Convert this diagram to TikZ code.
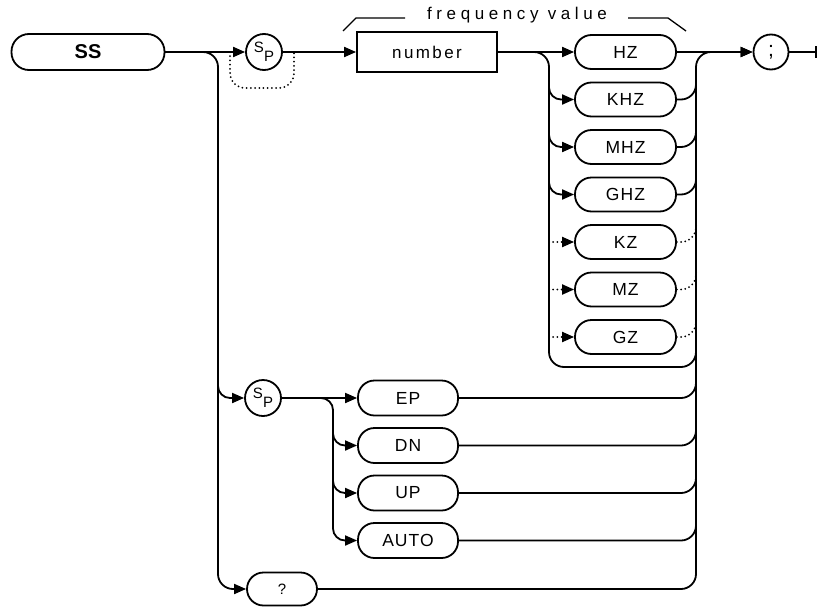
\documentclass[tikz,border=0pt]{standalone}
\usepackage{fontspec}
\setmainfont{Liberation Sans}
\newfontfamily\capsfont[LetterSpace=6]{Liberation Sans}
\newfontfamily\lowfont[LetterSpace=14]{Liberation Sans}
\newfontfamily\bracefont[LetterSpace=27]{Liberation Sans}
\usetikzlibrary{arrows.meta,calc}
\tikzset{
    conn/.style={line width=1.8pt},
    flow/.style={conn,-{Triangle[length=12pt,width=10pt]}},
    bypass/.style={line width=2pt,line cap=round,dash pattern=on 0pt off 4.2pt},
    roundjoin/.style={rounded corners=15pt},
    tightjoin/.style={rounded corners=12pt},
    command/.style={draw,line width=1.8pt,rounded corners=17.5pt,minimum width=153pt,minimum height=36pt,inner sep=0pt,font=\fontsize{20}{20}\selectfont\bfseries},
    keyword/.style={draw,line width=1.8pt,rounded corners=16.5pt,minimum width=101pt,minimum height=34pt,inner sep=0pt,font=\fontsize{17.5}{17.5}\capsfont},
    param/.style={draw,line width=1.8pt,minimum width=140pt,minimum height=40pt,inner sep=0pt,font=\fontsize{17}{17}\lowfont},
    spacer/.style={draw,circle,line width=1.8pt,minimum size=36pt,inner sep=0pt,font=\fontsize{15}{15}\selectfont},
    ender/.style={draw,circle,line width=1.8pt,minimum size=35pt,inner sep=0pt,font=\fontsize{21}{21}\selectfont},
    bracket/.style={line width=1.3pt}
}
\newcommand{\spsym}{\raisebox{0.22em}{S}\raisebox{-0.38em}{P}}

\begin{document}
\begin{tikzpicture}[x=1pt,y=-1pt]
    \useasboundingbox (0,0) rectangle (819,608);
    % Main row
    \node[command] (ss) at (88,52) {SS};
    \node[spacer] (sp1) at (264,52) {\spsym};
    \node[param] (num) at (427,52) {number};
    \node[ender] (semi) at (771,52) {;};
    \coordinate (fin) at (817,52);
    % Units
    \node[keyword] (hz) at (625.5,52) {HZ};
    \node[keyword] (khz) at (625.5,99.5) {KHZ};
    \node[keyword] (mhz) at (625.5,147) {MHZ};
    \node[keyword] (ghz) at (625.5,194.5) {GHZ};
    \node[keyword] (kz) at (625.5,242) {KZ};
    \node[keyword] (mz) at (625.5,289.5) {MZ};
    \node[keyword] (gz) at (625.5,337) {GZ};
    % Step keywords
    \node[spacer] (sp2) at (263,398) {\spsym};
    \node[keyword,minimum width=100pt,minimum height=35pt] (ep) at (408,398) {EP};
    \node[keyword,minimum width=100pt,minimum height=35pt] (dn) at (408,445.5) {DN};
    \node[keyword,minimum width=100pt,minimum height=35pt] (up) at (408,493) {UP};
    \node[keyword,minimum width=100pt,minimum height=35pt] (auto) at (408,540.5) {AUTO};
    \node[keyword,minimum width=70pt,minimum height=33pt,font=\fontsize{15}{15}\selectfont] (qm) at (282,589) {?};
    % Frequency bracket
    \node[font=\fontsize{17}{17}\bracefont] (fv) at (517,15) {frequency value};
    \coordinate (fvL) at (343,31);
    \coordinate (fvLt) at (356,18);
    \coordinate (fvLe) at (405,18);
    \coordinate (fvRs) at (628,18);
    \coordinate (fvRt) at (668,18);
    \coordinate (fvR) at (686,31);
    \draw[bracket] (fvL) -- (fvLt) -- (fvLe);
    \draw[bracket] (fvRs) -- (fvRt) -- (fvR);
    % Junctions
    \coordinate (brL) at (218,52);
    \coordinate (brLm) at (218,370);
    \coordinate (brLb) at (218,589);
    \coordinate (brU) at (549,52);
    \coordinate (brUb) at (549,367);
    \coordinate (brS) at (333,398);
    \coordinate (brSb) at (333,540.5);
    \coordinate (colT) at (696,52);
    \coordinate (colU) at (696,330);
    \coordinate (dotL) at (230,52);
    \coordinate (dotB) at (262,88);
    \coordinate (dotR) at (294,52);

    % Main path
    \draw[flow] (ss) -- (sp1);
    \draw[flow] (sp1) -- (num);
    \draw[flow] (num) -- (hz);
    \draw[flow] (hz) -- (semi);
    \draw[conn,-{Bar[width=12pt]}] (semi) -- (fin);
    \draw[bypass,roundjoin] (dotL) |- (dotB) -| (dotR);
    % Left branch
    \draw[flow,roundjoin] (ss) -| (brLb) -- (qm);
    \draw[flow,tightjoin] (brLm) |- (sp2);
    % Unit choices
    \draw[conn,roundjoin] (num) -| (brUb) -| (colU);
    \foreach \u in {khz,mhz,ghz} {
        \draw[flow,tightjoin] ($(brU |- \u.west)+(0,-25)$) |- (\u);
        \draw[conn,roundjoin] (\u) -| ($(colT |- \u.east)+(0,-25)$);
    }
    \foreach \u in {kz,mz,gz} {
        \draw[bypass,-{Triangle[length=12pt,width=10pt]}] (brU |- \u.west) -- (\u);
        \draw[bypass,roundjoin] (\u) -| ($(colT |- \u.east)+(0,-20)$);
    }
    % Step choices
    \draw[flow] (sp2) -- (ep);
    \draw[flow,tightjoin] (sp2) -| (brSb) -- (auto);
    \foreach \u in {dn,up} {
        \draw[flow,tightjoin] ($(brS |- \u.west)+(0,-25)$) |- (\u);
    }
    \foreach \u in {ep,dn,up,auto} {
        \draw[conn,roundjoin] (\u) -| ($(colT |- \u.east)+(0,-25)$);
    }
    % Collector
    \draw[flow,roundjoin] (qm) -| (colT) -- (semi);
\end{tikzpicture}
\end{document}
